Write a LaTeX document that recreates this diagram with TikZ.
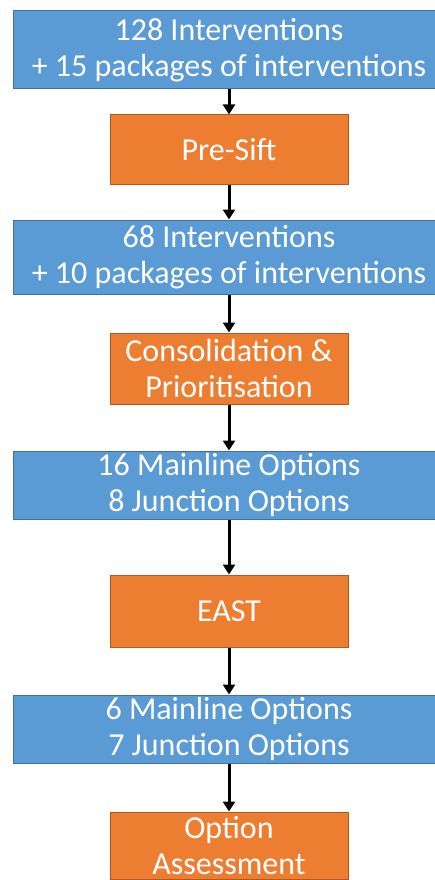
\documentclass[tikz,border=0pt]{standalone}
\usepackage{fontspec}
\setmainfont{Carlito}
\usetikzlibrary{arrows.meta}
\definecolor{blueF}{HTML}{5B9BD5}
\definecolor{blueD}{HTML}{41719C}
\definecolor{orangeF}{HTML}{ED7D31}
\definecolor{orangeD}{HTML}{AE5A21}
\begin{document}
\begin{tikzpicture}[x=1pt,y=-1pt,
  boxbase/.style={rectangle, line width=1pt, text=white, align=center, inner sep=0pt,
    font=\fontsize{32}{36.5}\selectfont},
  bluebox/.style={boxbase, draw=blueD, fill=blueF, minimum width=432pt},
  orangebox/.style={boxbase, draw=orangeD, fill=orangeF, minimum width=238pt},
  arr/.style={line width=3pt, -{Triangle[width=12pt,length=10pt]}}]
\useasboundingbox (0,0) rectangle (435,880);
\clip (0,0) rectangle (435,880);
\node[bluebox, minimum height=78pt] (b1) at (229,50) {128 Interventions\\+ 15 packages of interventions};
\node[orangebox, minimum height=69pt] (o1) at (229,149.5) {Pre-Sift};
\node[bluebox, minimum height=74pt] (b2) at (229,257) {68 Interventions\\+ 10 packages of interventions};
\node[orangebox, minimum height=71pt] (o2) at (229,368.5) {Consolidation \&\\Prioritisation};
\node[bluebox, minimum height=68pt] (b3) at (229,485) {16 Mainline Options\\8 Junction Options};
\node[orangebox, minimum height=72pt] (o3) at (229,611) {EAST};
\node[bluebox, minimum height=68pt] (b4) at (229,729) {6 Mainline Options\\7 Junction Options};
\node[orangebox, minimum height=67pt] (o4) at (229,845.5) {Option\\Assessment};
\draw[arr] (b1.south) -- (o1.north);
\draw[arr] (o1.south) -- (b2.north);
\draw[arr] (b2.south) -- (o2.north);
\draw[arr] (o2.south) -- (b3.north);
\draw[arr] (b3.south) -- (o3.north);
\draw[arr] (o3.south) -- (b4.north);
\draw[arr] (b4.south) -- (o4.north);
\end{tikzpicture}
\end{document}
